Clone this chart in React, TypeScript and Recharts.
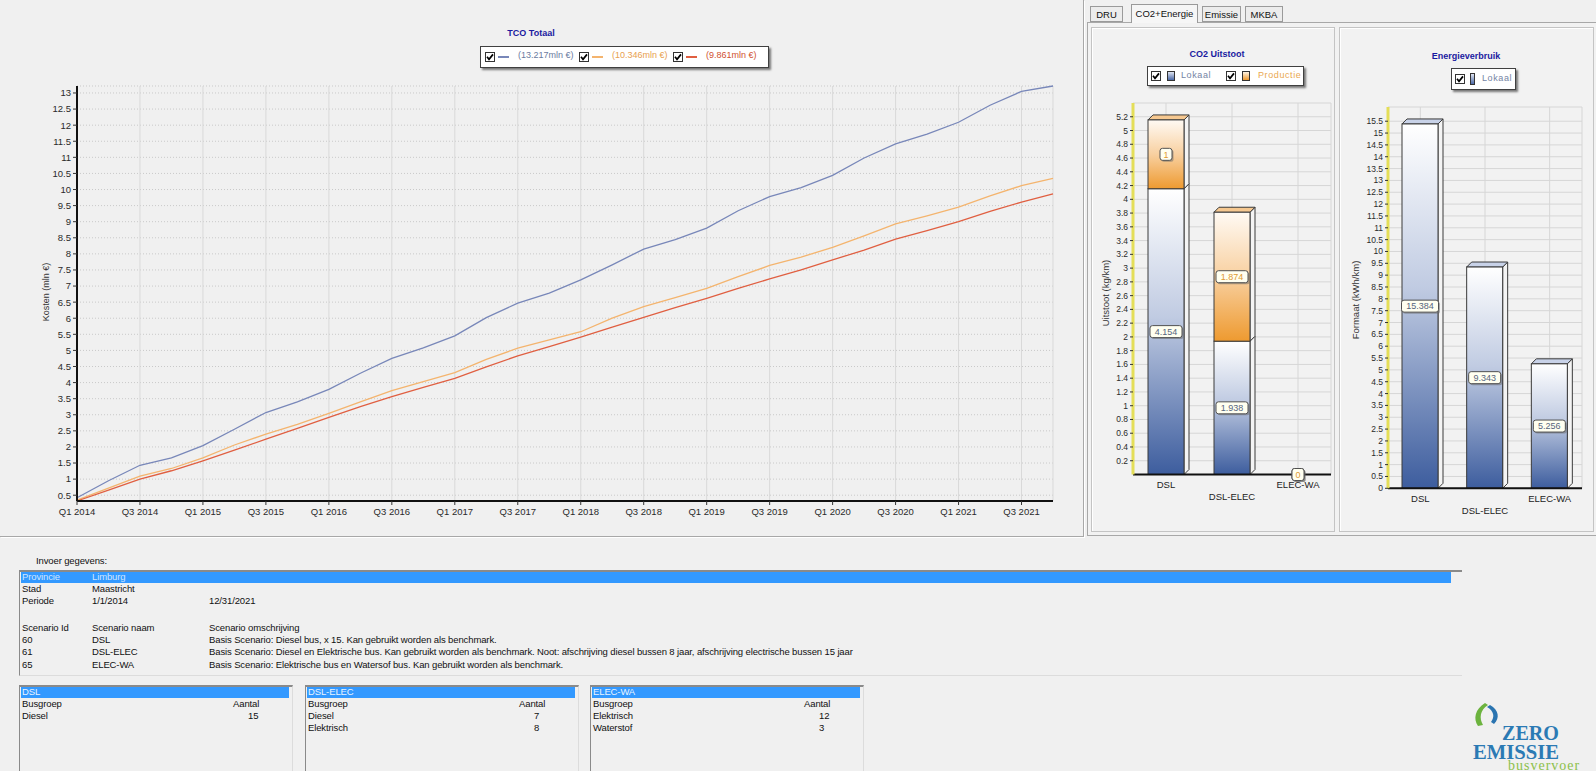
import React from "react";
import { LineChart, Line, BarChart, Bar, XAxis, YAxis, CartesianGrid, LabelList } from "recharts";

const FONT = "'Liberation Sans', Arial, sans-serif";
const NARROW = "'Liberation Sans Narrow', 'Liberation Sans', Arial, sans-serif";

// ---- TCO Totaal (mln €) per kwartaal ----
const quarters = [
  "Q1 2014", "Q2 2014", "Q3 2014", "Q4 2014",
  "Q1 2015", "Q2 2015", "Q3 2015", "Q4 2015",
  "Q1 2016", "Q2 2016", "Q3 2016", "Q4 2016",
  "Q1 2017", "Q2 2017", "Q3 2017", "Q4 2017",
  "Q1 2018", "Q2 2018", "Q3 2018", "Q4 2018",
  "Q1 2019", "Q2 2019", "Q3 2019", "Q4 2019",
  "Q1 2020", "Q2 2020", "Q3 2020", "Q4 2020",
  "Q1 2021", "Q2 2021", "Q3 2021", "Q4 2021",
];
const tcoDsl = [
  0.42, 0.95, 1.43, 1.66, 2.04, 2.55, 3.07, 3.4, 3.79, 4.29, 4.75, 5.08, 5.45, 6.02, 6.47, 6.78,
  7.19, 7.66, 8.15, 8.44, 8.8, 9.34, 9.78, 10.06, 10.44, 10.98, 11.42, 11.72, 12.09, 12.62, 13.05, 13.217,
];
const tcoDslElec = [
  0.35, 0.72, 1.09, 1.33, 1.66, 2.06, 2.4, 2.7, 3.04, 3.4, 3.75, 4.03, 4.31, 4.72, 5.07, 5.33,
  5.58, 6.0, 6.36, 6.64, 6.93, 7.29, 7.64, 7.9, 8.2, 8.56, 8.93, 9.18, 9.45, 9.8, 10.12, 10.346,
];
const tcoElecWa = [
  0.32, 0.66, 1.0, 1.26, 1.57, 1.9, 2.24, 2.58, 2.92, 3.25, 3.56, 3.85, 4.13, 4.49, 4.83, 5.12,
  5.41, 5.72, 6.03, 6.33, 6.62, 6.93, 7.22, 7.5, 7.81, 8.12, 8.46, 8.72, 9.0, 9.32, 9.61, 9.861,
];
const tcoTicks = [0.5, 1, 1.5, 2, 2.5, 3, 3.5, 4, 4.5, 5, 5.5, 6, 6.5, 7, 7.5, 8, 8.5, 9, 9.5, 10, 10.5, 11, 11.5, 12, 12.5, 13];

// ---- CO2 en energie per scenario ----
const scenarios = ["DSL", "DSL-ELEC", "ELEC-WA"];
const co2Lokaal = [4.154, 1.938, 0];
const co2Productie = [1, 1.874, 0];
const co2Ticks = [0.2, 0.4, 0.6, 0.8, 1, 1.2, 1.4, 1.6, 1.8, 2, 2.2, 2.4, 2.6, 2.8, 3, 3.2, 3.4, 3.6, 3.8, 4, 4.2, 4.4, 4.6, 4.8, 5, 5.2];
const energieLokaal = [15.384, 9.343, 5.256];
const energieTicks = [0, 0.5, 1, 1.5, 2, 2.5, 3, 3.5, 4, 4.5, 5, 5.5, 6, 6.5, 7, 7.5, 8, 8.5, 9, 9.5, 10, 10.5, 11, 11.5, 12, 12.5, 13, 13.5, 14, 14.5, 15, 15.5];

const tcoData = quarters.map((q, i) => ({ q, dsl: tcoDsl[i], dslElec: tcoDslElec[i], elecWa: tcoElecWa[i] }));
const co2Data = scenarios.map((name, i) => ({ name, lokaal: co2Lokaal[i], productie: co2Productie[i] }));
const energieData = scenarios.map((name, i) => ({ name, lokaal: energieLokaal[i] }));

const allTco = [...tcoDsl, ...tcoDslElec, ...tcoElecWa];
const tcoDomain: [number, number] = [Math.min(...allTco), Math.max(...allTco)];

const tcoSeries = [
  { key: "dsl", color: "#7887b9", text: "#6a7aa0", last: tcoDsl[tcoDsl.length - 1] },
  { key: "dslElec", color: "#f4b46e", text: "#e8a050", last: tcoDslElec[tcoDslElec.length - 1] },
  { key: "elecWa", color: "#e05f41", text: "#d05030", last: tcoElecWa[tcoElecWa.length - 1] },
];

const Check = () => (
  <svg width={10} height={10} style={{ display: "block" }}>
    <rect x={0.5} y={0.5} width={9} height={9} fill="#fff" stroke="#333" />
    <path d="M2 4.8 L4 7.3 L8 2.4" stroke="#000" strokeWidth={1.7} fill="none" />
  </svg>
);

const abs = (left: number, top: number, extra: React.CSSProperties = {}): React.CSSProperties => ({
  position: "absolute",
  left,
  top,
  ...extra,
});

function make3D(gradId: string, topFill: string, showTop: boolean) {
  return (p: any) => {
    const { x, y, width: w, height: h } = p;
    if (!h || h <= 0.5) return <g />;
    const d = 5;
    return (
      <g>
        <polygon
          points={`${x + w},${y} ${x + w + d},${y - d} ${x + w + d},${y + h - d} ${x + w},${y + h}`}
          fill="#f4f4f4"
          stroke="#3a3a3a"
          strokeWidth={1}
        />
        {showTop && (
          <polygon
            points={`${x},${y} ${x + d},${y - d} ${x + w + d},${y - d} ${x + w},${y}`}
            fill={topFill}
            stroke="#3a3a3a"
            strokeWidth={1}
          />
        )}
        <rect x={x} y={y} width={w} height={h} fill={`url(#${gradId})`} stroke="#3a3a3a" strokeWidth={1} />
      </g>
    );
  };
}

function valueBox(color: string) {
  return (p: any) => {
    const vb = p.viewBox || p;
    const { x, y, width, height } = vb;
    const cx = x + width / 2;
    const cy = y + height / 2;
    const txt = String(p.value);
    const w = txt.length * 5 + 7;
    return (
      <g>
        <rect x={cx - w / 2 + 1.5} y={cy - 6 + 1.5} width={w} height={12} rx={2.5} fill="#666" opacity={0.5} />
        <rect x={cx - w / 2} y={cy - 6} width={w} height={12} rx={2.5} fill="#fffff0" stroke="#505050" />
        <text x={cx} y={cy + 3.3} textAnchor="middle" fontSize={9} fontFamily={FONT} fill={color}>
          {txt}
        </text>
      </g>
    );
  };
}

function staggerTick(near: number, far: number) {
  return (p: any) => (
    <text
      x={p.x}
      y={p.y + (p.index % 2 ? far : near)}
      textAnchor="middle"
      fontSize={9.5}
      fontFamily={FONT}
      fill="#222"
    >
      {p.payload.value}
    </text>
  );
}

const Gradients = () => (
  <defs>
    <linearGradient id="gBlue" x1="0" y1="0" x2="0" y2="1">
      <stop offset="0%" stopColor="#ffffff" />
      <stop offset="45%" stopColor="#c0cbe2" />
      <stop offset="100%" stopColor="#3d5d9e" />
    </linearGradient>
    <linearGradient id="gOrange" x1="0" y1="0" x2="0" y2="1">
      <stop offset="0%" stopColor="#fffaf4" />
      <stop offset="50%" stopColor="#f8d0a0" />
      <stop offset="100%" stopColor="#ee9a30" />
    </linearGradient>
  </defs>
);

const tickStyle = { fontSize: 9.5, fill: "#2a2a2a", fontFamily: FONT };
const barTickStyle = { fontSize: 8.5, fill: "#2a2a2a", fontFamily: NARROW };

function TcoChart() {
  return (
    <div style={abs(0, 0)}>
      <LineChart width={1065} height={530} data={tcoData} margin={{ top: 86, right: 12, bottom: 4, left: 32 }}>
        <CartesianGrid vertical={false} stroke="#c9c9c9" strokeDasharray="1 2" />
        <CartesianGrid horizontal={false} stroke="#d9d9d9" />
        <XAxis
          dataKey="q"
          interval={1}
          height={25}
          tick={tickStyle}
          tickSize={4}
          tickMargin={3}
          tickLine={{ stroke: "#333" }}
          axisLine={{ stroke: "#111", strokeWidth: 2 }}
        />
        <XAxis xAxisId="top" dataKey="q" orientation="top" height={0} tick={false} tickLine={false} axisLine={{ stroke: "#8a8a8a" }} />
        <YAxis
          domain={tcoDomain}
          ticks={tcoTicks}
          interval={0}
          width={45}
          tick={tickStyle}
          tickSize={4}
          tickMargin={2}
          tickLine={{ stroke: "#333" }}
          axisLine={{ stroke: "#111", strokeWidth: 2 }}
        />
        <YAxis yAxisId="right" orientation="right" domain={tcoDomain} width={0} tick={false} tickLine={false} axisLine={{ stroke: "#8a8a8a", strokeWidth: 2 }} />
        {tcoSeries.map((s) => (
          <Line
            key={s.key}
            type="linear"
            dataKey={s.key}
            stroke={s.color}
            strokeWidth={1.3}
            dot={false}
            isAnimationActive={false}
          />
        ))}
      </LineChart>
      <div style={abs(531, 28, { transform: "translateX(-50%)", fontSize: 9, fontWeight: "bold", color: "#1a1aa0", whiteSpace: "nowrap" })}>
        TCO Totaal
      </div>
      <div
        style={abs(480, 46, {
          width: 287,
          height: 20,
          background: "#fff",
          border: "1px solid #404040",
          boxShadow: "2px 2px 2px #777",
        })}
      >
        {tcoSeries.map((s, i) => (
          <React.Fragment key={s.key}>
            <div style={abs(4 + i * 94, 5)}>
              <Check />
            </div>
            <div style={abs(17 + i * 94, 9, { width: 11, height: 1.5, background: s.color })} />
            <div style={abs(37 + i * 94, 3, { fontSize: 9, color: s.text, whiteSpace: "nowrap" })}>
              ({s.last.toFixed(3)}mln €)
            </div>
          </React.Fragment>
        ))}
      </div>
      <div style={abs(46, 292, { transform: "translate(-50%,-50%) rotate(-90deg)", fontSize: 9, color: "#333", whiteSpace: "nowrap" })}>
        Kosten (mln €)
      </div>
    </div>
  );
}

function Co2Chart() {
  return (
    <div style={abs(1091, 27)}>
      <BarChart width={244} height={500} data={co2Data} margin={{ top: 76, right: 4, bottom: 12, left: 2 }}>
        <Gradients />
        <CartesianGrid stroke="#d6d6d6" />
        <XAxis dataKey="name" interval={0} height={40.5} tickSize={0} tickMargin={0} tick={staggerTick(13, 25)} axisLine={{ stroke: "#111", strokeWidth: 2 }} />
        <XAxis xAxisId="top" dataKey="name" orientation="top" height={0} tick={false} tickLine={false} axisLine={{ stroke: "#707070" }} />
        <YAxis
          domain={[0, 5.4]}
          ticks={co2Ticks}
          interval={0}
          width={40}
          tick={barTickStyle}
          tickSize={3}
          tickMargin={2}
          tickLine={{ stroke: "#333" }}
          axisLine={{ stroke: "#e4de58", strokeWidth: 3 }}
        />
        <YAxis yAxisId="right" orientation="right" domain={[0, 5.4]} width={0} tick={false} tickLine={false} axisLine={{ stroke: "#707070" }} />
        <Bar dataKey="lokaal" stackId="a" barSize={36} shape={make3D("gBlue", "#dde3f0", false)} isAnimationActive={false}>
          <LabelList dataKey="lokaal" content={valueBox("#56657e")} />
        </Bar>
        <Bar dataKey="productie" stackId="a" barSize={36} shape={make3D("gOrange", "#f6c890", true)} isAnimationActive={false}>
          <LabelList dataKey="productie" content={valueBox("#e09a30")} />
        </Bar>
      </BarChart>
      <div style={abs(126, 22, { transform: "translateX(-50%)", fontSize: 9, fontWeight: "bold", color: "#1a1aa0", whiteSpace: "nowrap" })}>
        CO2 Uitstoot
      </div>
      <div style={abs(56, 39, { width: 155, height: 18, background: "#fff", border: "1px solid #404040", boxShadow: "2px 2px 2px #777" })}>
        <div style={abs(3, 4)}>
          <Check />
        </div>
        <div style={abs(19, 4, { width: 6, height: 8, border: "1px solid #333", background: "linear-gradient(#dfe5f2,#4a68a6)" })} />
        <div style={abs(33, 3, { fontSize: 9, color: "#7484a4", letterSpacing: 0.6 })}>Lokaal</div>
        <div style={abs(78, 4)}>
          <Check />
        </div>
        <div style={abs(94, 4, { width: 6, height: 8, border: "1px solid #333", background: "linear-gradient(#fff4e4,#ee9a30)" })} />
        <div style={abs(110, 3, { fontSize: 9, color: "#eaa850", letterSpacing: 0.6 })}>Productie</div>
      </div>
      <div style={abs(14, 266, { transform: "translate(-50%,-50%) rotate(-90deg)", fontSize: 9.5, color: "#333", whiteSpace: "nowrap" })}>
        Uitstoot (kg/km)
      </div>
    </div>
  );
}

function EnergieChart() {
  return (
    <div style={abs(1340, 27)}>
      <BarChart width={253} height={500} data={energieData} margin={{ top: 80, right: 11, bottom: 8.7, left: 8 }}>
        <Gradients />
        <CartesianGrid stroke="#d6d6d6" />
        <XAxis dataKey="name" interval={0} height={30} tickSize={0} tickMargin={0} tick={staggerTick(14, 26)} axisLine={{ stroke: "#111", strokeWidth: 2 }} />
        <XAxis xAxisId="top" dataKey="name" orientation="top" height={0} tick={false} tickLine={false} axisLine={{ stroke: "#707070" }} />
        <YAxis
          domain={[0, 16.1]}
          ticks={energieTicks}
          interval={0}
          width={40}
          tick={barTickStyle}
          tickSize={3}
          tickMargin={2}
          tickLine={{ stroke: "#333" }}
          axisLine={{ stroke: "#e4de58", strokeWidth: 3 }}
        />
        <YAxis yAxisId="right" orientation="right" domain={[0, 16.1]} width={0} tick={false} tickLine={false} axisLine={{ stroke: "#707070" }} />
        <Bar dataKey="lokaal" barSize={36} shape={make3D("gBlue", "#c8d2e8", true)} isAnimationActive={false}>
          <LabelList dataKey="lokaal" content={valueBox("#56657e")} />
        </Bar>
      </BarChart>
      <div style={abs(126, 24, { transform: "translateX(-50%)", fontSize: 9, fontWeight: "bold", color: "#1a1aa0", whiteSpace: "nowrap" })}>
        Energieverbruik
      </div>
      <div style={abs(111, 41, { width: 63, height: 20, background: "#fff", border: "1px solid #404040", boxShadow: "2px 2px 2px #777" })}>
        <div style={abs(3, 5)}>
          <Check />
        </div>
        <div style={abs(18, 4, { width: 3, height: 10, border: "1px solid #333", background: "linear-gradient(#dfe5f2,#4a68a6)" })} />
        <div style={abs(30, 4, { fontSize: 9, color: "#7484a4", letterSpacing: 0.6 })}>Lokaal</div>
      </div>
      <div style={abs(15, 273, { transform: "translate(-50%,-50%) rotate(-90deg)", fontSize: 9.5, color: "#333", whiteSpace: "nowrap" })}>
        Formaat (kWh/km)
      </div>
    </div>
  );
}

const tabs = [
  { label: "DRU", left: 1090, width: 33, active: false },
  { label: "CO2+Energie", left: 1131, width: 67, active: true },
  { label: "Emissie", left: 1202, width: 39, active: false },
  { label: "MKBA", left: 1245, width: 38, active: false },
];

const invoerRows = [
  { top: 583, cells: ["Stad", "Maastricht", ""] },
  { top: 595, cells: ["Periode", "1/1/2014", "12/31/2021"] },
  { top: 622, cells: ["Scenario Id", "Scenario naam", "Scenario omschrijving"] },
  { top: 634, cells: ["60", "DSL", "Basis Scenario: Diesel bus, x 15. Kan gebruikt worden als benchmark."] },
  { top: 646, cells: ["61", "DSL-ELEC", "Basis Scenario: Diesel en Elektrische bus. Kan gebruikt worden als benchmark. Noot: afschrijving diesel bussen 8 jaar, afschrijving electrische bussen 15 jaar"] },
  { top: 659, cells: ["65", "ELEC-WA", "Basis Scenario: Elektrische bus en Watersof bus. Kan gebruikt worden als benchmark."] },
];
const invoerCols = [22, 92, 209];

const busTables = [
  { name: "DSL", left: 19, rows: [["Diesel", "15"]] },
  { name: "DSL-ELEC", left: 305, rows: [["Diesel", "7"], ["Elektrisch", "8"]] },
  { name: "ELEC-WA", left: 590, rows: [["Elektrisch", "12"], ["Waterstof", "3"]] },
];

const tableText: React.CSSProperties = { fontSize: 9.5, fontFamily: NARROW, color: "#111", whiteSpace: "nowrap", letterSpacing: -0.12 };

const SERIF = "'Liberation Serif', 'DejaVu Serif', serif";

function Logo() {
  return (
    <svg style={abs(1466, 700)} width={130} height={71}>
      <path d="M19 3 C 9 9, 7 19, 12 26 L 17 25 C 13 18, 14 10, 22 5 Z" fill="#6cb33e" />
      <path d="M24 5 C 33 10, 34 18, 28 24 L 25 22 C 29 17, 28 11, 21 7 Z" fill="#2a74b0" />
      <text x={36} y={40} fontSize={22} fontWeight="bold" fontFamily={SERIF} fill="#2b7ab4" textLength={57} lengthAdjust="spacingAndGlyphs">
        ZERO
      </text>
      <text x={7} y={59} fontSize={22} fontWeight="bold" fontFamily={SERIF} fill="#2b7ab4" textLength={86} lengthAdjust="spacingAndGlyphs">
        EMISSIE
      </text>
      <text x={42} y={70} fontSize={14} fontFamily={SERIF} fill="#8cc04a" letterSpacing={1}>
        busvervoer
      </text>
    </svg>
  );
}

export default function App() {
  return (
    <div
      style={{
        position: "absolute",
        left: 0,
        top: 0,
        width: 1596,
        height: 771,
        overflow: "hidden",
        background: "#f0f0f0",
        fontFamily: FONT,
      }}
    >
      {/* panel frames */}
      <div style={abs(0, 0, { width: 1083, height: 536, borderRight: "1px solid #a8a8a8", borderBottom: "1px solid #a8a8a8", boxShadow: "1px 1px 0 #fff" })} />
      <div style={abs(1087, 22, { width: 508, height: 512, border: "1px solid #a8a8a8", borderRight: "none", background: "#f2f2f2" })} />
      <div style={abs(1091, 27, { width: 242, height: 503, border: "1px solid #c4c4c4", boxShadow: "inset 1px 1px 0 #fff" })} />
      <div style={abs(1339, 27, { width: 253, height: 503, border: "1px solid #c4c4c4", boxShadow: "inset 1px 1px 0 #fff" })} />

      {tabs.map((t) => (
        <div
          key={t.label}
          style={abs(t.left, t.active ? 4 : 6, {
            width: t.width,
            height: t.active ? 19 : 16,
            border: "1px solid #9a9a9a",
            borderBottom: t.active ? "none" : "1px solid #9a9a9a",
            background: t.active ? "#f6f6f6" : "#ececec",
            fontSize: 9.5,
            color: "#111",
            textAlign: "center",
            lineHeight: t.active ? "18px" : "16px",
            boxSizing: "border-box",
          })}
        >
          {t.label}
        </div>
      ))}

      <TcoChart />
      <Co2Chart />
      <EnergieChart />

      {/* invoer gegevens */}
      <div style={abs(36, 555, tableText)}>Invoer gegevens:</div>
      <div style={abs(19, 570, { width: 1443, height: 106, borderTop: "2px solid #8a8a8a", borderLeft: "1px solid #8a8a8a", borderBottom: "1px solid #dcdcdc", boxSizing: "border-box" })} />
      <div style={abs(21, 572, { width: 1430, height: 11, background: "#3399ff" })} />
      <div style={abs(invoerCols[0], 571, { ...tableText, color: "#cfe6ff" })}>Provincie</div>
      <div style={abs(invoerCols[1], 571, { ...tableText, color: "#cfe6ff" })}>Limburg</div>
      {invoerRows.map((r) =>
        r.cells.map((c, ci) => (
          <div key={r.top + "-" + ci} style={abs(invoerCols[ci], r.top, tableText)}>
            {c}
          </div>
        ))
      )}

      {busTables.map((t) => (
        <React.Fragment key={t.name}>
          <div style={abs(t.left, 685, { width: 274, height: 90, borderTop: "2px solid #8a8a8a", borderLeft: "1px solid #8a8a8a", borderRight: "1px solid #dcdcdc", boxSizing: "border-box" })} />
          <div style={abs(t.left + 2, 687, { width: 268, height: 11, background: "#3399ff" })} />
          <div style={abs(t.left + 3, 686, { ...tableText, color: "#e8f3ff" })}>{t.name}</div>
          <div style={abs(t.left + 3, 698, tableText)}>Busgroep</div>
          <div style={abs(t.left + 214, 698, tableText)}>Aantal</div>
          {t.rows.map((row, ri) => (
            <React.Fragment key={row[0]}>
              <div style={abs(t.left + 3, 710 + ri * 12, tableText)}>{row[0]}</div>
              <div style={abs(t.left + 229, 710 + ri * 12, tableText)}>{row[1]}</div>
            </React.Fragment>
          ))}
        </React.Fragment>
      ))}

      <Logo />
    </div>
  );
}
